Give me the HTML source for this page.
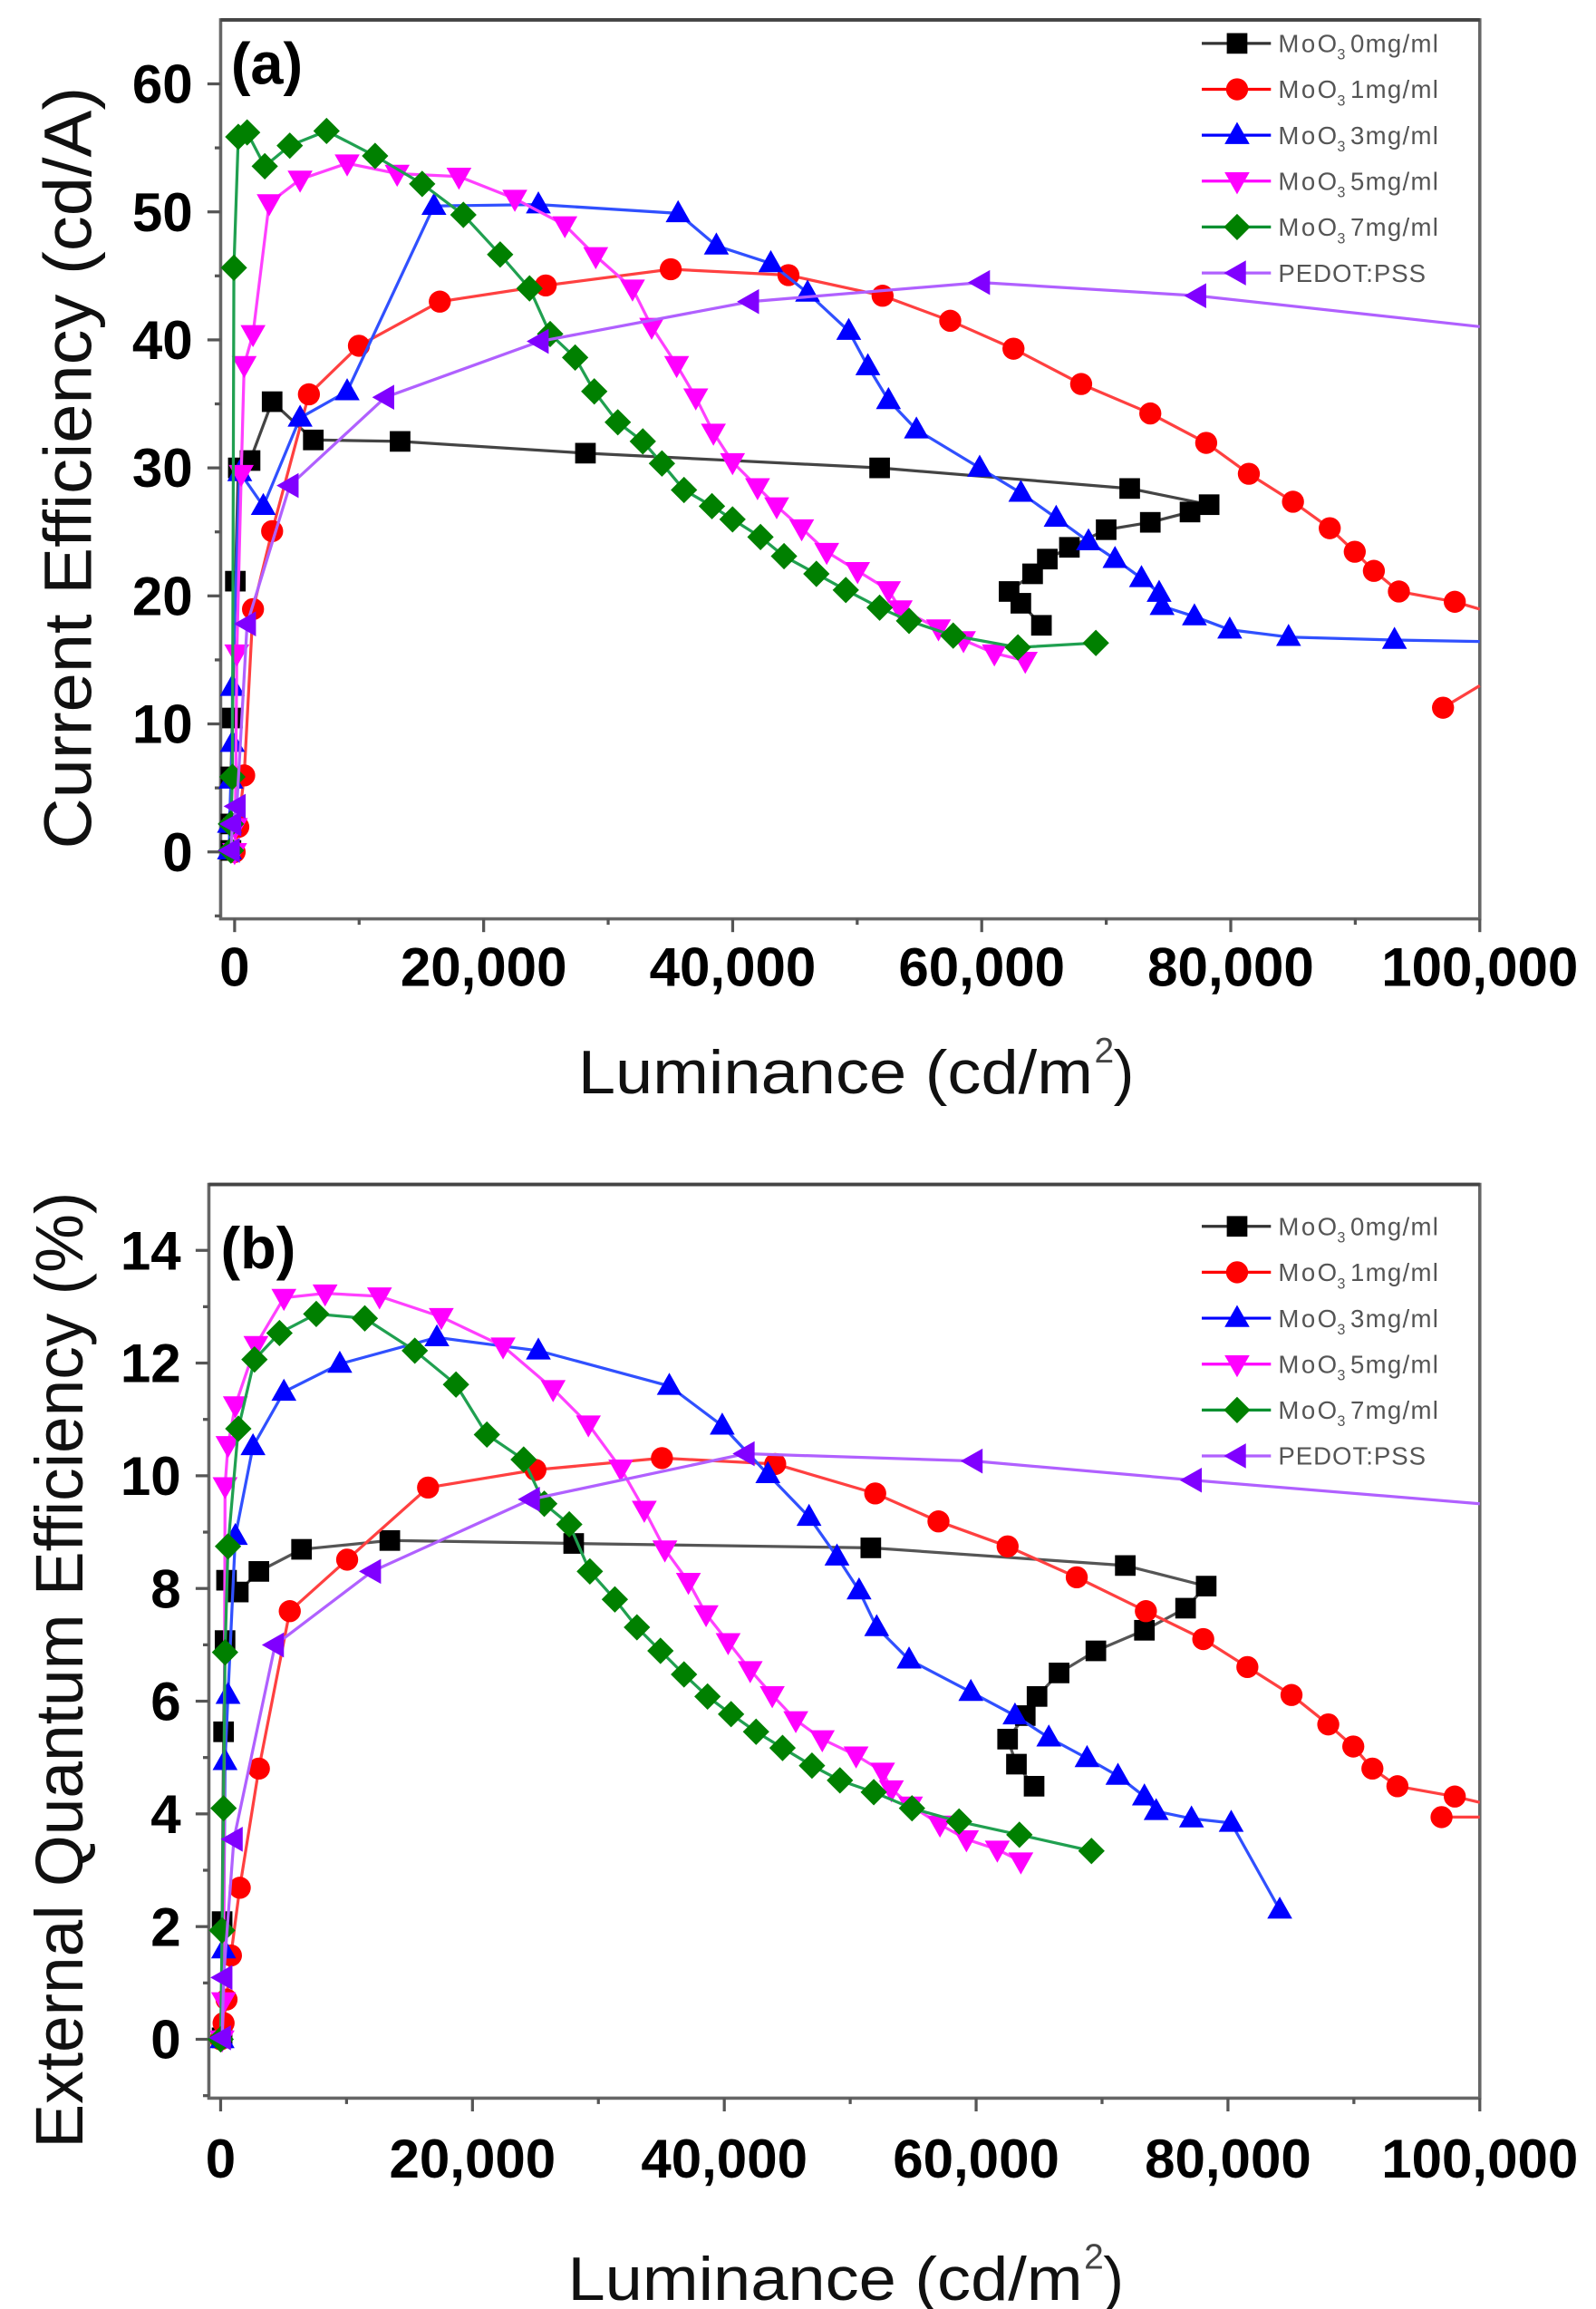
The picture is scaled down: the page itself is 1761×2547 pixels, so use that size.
<!DOCTYPE html>
<html><head><meta charset="utf-8">
<style>
html,body{margin:0;padding:0;background:#fff;}
svg{display:block;}
text{font-family:"Liberation Sans",sans-serif;}
</style></head>
<body>
<svg id="s" xmlns="http://www.w3.org/2000/svg" width="1761" height="2547" viewBox="0 0 1085 1569.3" preserveAspectRatio="none">
<rect width="1085" height="1570" fill="#fff"/>
<g id="g"></g>
<text x="157" y="57" font-size="40" font-weight="bold">(a)</text>
<text transform="translate(62,318) rotate(-90)" text-anchor="middle" font-size="46" textLength="518" lengthAdjust="spacingAndGlyphs" fill="#111">Current Efficiency (cd/A)</text>
<text x="393" y="743" font-size="42" textLength="350" lengthAdjust="spacingAndGlyphs" fill="#111">Luminance (cd/m</text>
<text x="744" y="722" font-size="24" fill="#444">2</text>
<text x="757" y="743" font-size="42" fill="#111">)</text>
<text x="150" y="862" font-size="40" font-weight="bold">(b)</text>
<text transform="translate(56,1135) rotate(-90)" text-anchor="middle" font-size="46" textLength="650" lengthAdjust="spacingAndGlyphs" fill="#111">External Quantum Efficiency (%)</text>
<text x="386" y="1563" font-size="42" textLength="350" lengthAdjust="spacingAndGlyphs" fill="#111">Luminance (cd/m</text>
<text x="737" y="1542" font-size="24" fill="#444">2</text>
<text x="750" y="1563" font-size="42" fill="#111">)</text>
</svg>
<script>
const NS="http://www.w3.org/2000/svg";
const G=document.getElementById('g');
function el(t,a,txt){const e=document.createElementNS(NS,t);for(const k in a)e.setAttribute(k,a[k]);if(txt!==undefined)e.textContent=txt;G.appendChild(e);return e;}
function marker(type,x,y,c){
 if(type==='sq')el('rect',{x:x-7,y:y-7,width:14,height:14,fill:c});
 else if(type==='ci')el('circle',{cx:x,cy:y,r:7.5,fill:c});
 else if(type==='tu')el('polygon',{points:`${x},${y-9} ${x+8.5},${y+6} ${x-8.5},${y+6}`,fill:c});
 else if(type==='td')el('polygon',{points:`${x},${y+9} ${x+8.5},${y-6} ${x-8.5},${y-6}`,fill:c});
 else if(type==='di')el('polygon',{points:`${x},${y-9} ${x+9},${y} ${x},${y+9} ${x-9},${y}`,fill:c});
 else if(type==='tl')el('polygon',{points:`${x-9},${y} ${x+6},${y-8.5} ${x+6},${y+8.5}`,fill:c});
}
function series(pts,type,lc,mc){
 el('polyline',{points:pts.map(p=>p.join(',')).join(' '),fill:'none',stroke:lc,'stroke-width':2});
 pts.forEach(p=>{if(p[0]<1000)marker(type,p[0],p[1],mc);});
}
function axes(L,R,T,B,x0,xs,yticks,ytick0,yunit,labelY,yminor){
 el('rect',{x:L,y:T,width:R-L,height:B-T,fill:'none',stroke:'#666','stroke-width':2.2});
 el('line',{x1:L,y1:T,x2:R,y2:T,stroke:'#444','stroke-width':2.4});
 for(let i=0;i<=10;i++){const x=x0+i*xs/10;const major=i%2==0;
  el('line',{x1:x,y1:B,x2:x,y2:B+(major?9:4),stroke:'#555','stroke-width':2});
  if(major){el('text',{x:x,y:labelY,'font-size':37,'font-weight':'bold','text-anchor':'middle'},i==0?'0':(i*10000).toLocaleString('en-US'));}
 }
 yticks.forEach(v=>{const y=ytick0-v*yunit;
  el('line',{x1:L-9,y1:y,x2:L,y2:y,stroke:'#555','stroke-width':2});
  el('text',{x:L-19,y:y+13,'font-size':37,'font-weight':'bold','text-anchor':'end'},String(v));
 });
 yminor.forEach(v=>{const y=ytick0-v*yunit;el('line',{x1:L-4,y1:y,x2:L,y2:y,stroke:'#555','stroke-width':2});});
}
function legend(y0){
 const items=[['sq','#000','#333','0mg/ml'],['ci','#f00','#f00','1mg/ml'],['tu','#00f','#00f','3mg/ml'],['td','#f0f','#f0f','5mg/ml'],['di','#008000','#009030','7mg/ml'],['tl','#8000ff','#b060ff','PEDOT:PSS']];
 items.forEach((it,i)=>{const y=y0+i*31.2;
  el('line',{x1:817,y1:y,x2:864,y2:y,stroke:it[2],'stroke-width':2});
  marker(it[0],841,y,it[1]);
  if(it[3]==='PEDOT:PSS'){el('text',{x:869,y:y+6,'font-size':17,fill:'#555','letter-spacing':'0.6'},'PEDOT:PSS');}
  else{el('text',{x:869,y:y+6,'font-size':17,fill:'#555','letter-spacing':'1.5'},'MoO');
   el('text',{x:909,y:y+11,'font-size':10,fill:'#555'},'3');
   el('text',{x:918,y:y+6,'font-size':17,fill:'#555','letter-spacing':'0.8'},it[3]);}
 });
}
axes(150,1006,13.5,624.5,159.5,846.5,[0,10,20,30,40,50,60],579,8.7,670,[-5,5,15,25,35,45,55]);
axes(142,1006,805,1426,150,856,[0,2,4,6,8,10,12,14],1386,38.3,1480,[-1,1,3,5,7,9,11,13]);

// panel a
series([[157,578],[157,560],[157,528],[158,488],[160,395],[162,318],[170,313],[185,273],[213,299],[272,300],[398,308],[598,318],[768,332],[822,343],[809,348],[782,355],[752,360],[727,372],[712,380],[702,390],[686,402],[694,410],[708,425]],'sq','#444','#000');
series([[159.5,579],[162,562],[166,527],[172,414],[185,361],[210,268],[244,235],[299,205],[371,194],[456,183],[536,187],[600,201],[646,218],[689,237],[735,261],[782,281],[820,301],[849,322],[879,341],[904,359],[921,375],[934,388],[951,402],[989,409],[1006,414]],'ci','#ff4040','#f00');
series([[981,481],[1006,466]],'ci','#ff4040','#f00');
series([[156,578],[156,560],[157,530],[158,505],[158,467],[163,321],[179,344],[204,284],[236,266],[295,140],[366,139],[461,145],[487,167],[524,179],[549,199],[577,225],[590,249],[604,272],[623,292],[666,318],[694,335],[718,352],[740,368],[758,380],[776,393],[788,403],[790,412],[812,419],[836,428],[876,433],[948,435],[1006,436]],'tu','#3050ff','#00f');
series([[159.5,579],[160,562],[161,444],[164,322],[166,248],[172,227],[183,138],[204,122],[236,111],[270,118],[312,120],[350,135],[384,153],[405,174],[430,196],[443,222],[460,248],[473,270],[485,294],[498,314],[515,331],[528,344],[545,359],[562,375],[583,388],[604,401],[612,414],[638,427],[655,435],[676,444],[697,449]],'td','#ff40ff','#f0f');
series([[157,578],[157,560],[158,528],[159,182],[162,93],[168,90],[180,113],[197,99],[222,89],[255,106],[287,125],[315,146],[340,173],[360,196],[374,227],[391,243],[404,266],[420,287],[437,300],[450,315],[465,333],[484,344],[498,353],[517,365],[533,378],[555,390],[575,401],[598,413],[618,422],[648,432],[692,440],[745,437]],'di','#20a050','#008000');
series([[157,578],[158,560],[161,548],[168,424],[197,330],[262,270],[367,232],[510,205],[667,192],[814,201],[1006,222]],'tl','#b060ff','#8000ff');
legend(29.5);

// panel b
series([[151,1385],[151,1306],[152,1177],[153,1115],[154,1074],[162,1082],[176,1068],[205,1053],[265,1047],[390,1049],[592,1052],[765,1064],[820,1078],[806,1093],[778,1108],[745,1122],[720,1137],[705,1153],[697,1166],[685,1182],[691,1199],[703,1214]],'sq','#555','#000');
series([[150,1386],[152,1375],[154,1359],[157,1329],[163,1283],[176,1202],[197,1095],[236,1060],[291,1011],[364,999],[450,991],[527,995],[595,1015],[638,1034],[685,1051],[732,1072],[779,1095],[818,1114],[848,1133],[878,1152],[903,1172],[920,1187],[933,1202],[950,1214],[989,1221],[1006,1225]],'ci','#ff4040','#f00');
series([[980,1235],[1006,1235]],'ci','#ff4040','#f00');
series([[151,1386],[152,1325],[153,1197],[155,1152],[160,1044],[172,983],[193,946],[231,927],[297,909],[366,918],[455,942],[491,969],[522,1002],[550,1031],[569,1058],[584,1081],[596,1106],[618,1128],[660,1150],[690,1166],[713,1181],[739,1195],[760,1207],[778,1221],[786,1231],[810,1236],[837,1239],[870,1298]],'tu','#3050ff','#00f');
series([[151,1386],[152,1360],[153,1010],[155,982],[160,955],[174,914],[193,882],[221,879],[258,881],[300,895],[342,915],[376,944],[400,968],[422,998],[438,1026],[452,1053],[468,1075],[480,1097],[495,1116],[510,1135],[525,1152],[541,1169],[559,1182],[582,1193],[600,1204],[606,1216],[619,1227],[639,1240],[657,1250],[678,1257],[694,1265]],'td','#ff40ff','#f0f');
series([[150,1386],[151,1312],[152,1229],[153,1123],[155,1051],[162,971],[173,924],[190,906],[215,893],[248,896],[282,918],[310,941],[331,975],[356,992],[370,1022],[387,1036],[401,1068],[418,1087],[433,1106],[449,1122],[465,1138],[481,1153],[497,1165],[514,1177],[532,1188],[552,1200],[571,1210],[594,1218],[620,1229],[652,1238],[693,1247],[742,1258]],'di','#20a050','#008000');
series([[151,1385],[152,1344],[159,1250],[187,1118],[253,1068],[361,1019],[507,988],[662,993],[811,1006],[1006,1022]],'tl','#b060ff','#8000ff');
legend(833.5);
</script>
</body></html>
